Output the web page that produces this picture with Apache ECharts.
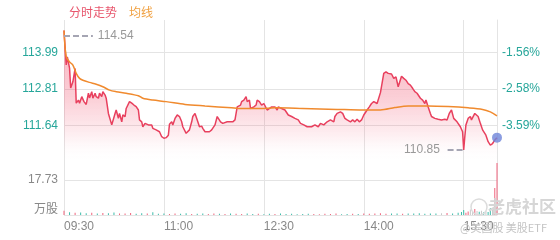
<!DOCTYPE html>
<html>
<head>
<meta charset="utf-8">
<script src="https://cdn.jsdelivr.net/npm/echarts@6/dist/echarts.min.js"></script>
<style>html,body{margin:0;padding:0;background:#fff}#c{width:560px;height:240px}</style>
</head>
<body>
<div id="c"></div>
<script>
// ---- data ----
const prevClose = 115.80;
const priceTicks = [111.64, 112.815, 113.99];
const priceTickLabels = ['111.64', '112.81', '113.99'];
const volTicks = [0, 17.73];
const volTickLabels = ['万股', '17.73'];
const timeTicks = [0, 90, 180, 270, 360];
const timeTickLabels = ['09:30', '11:00', '12:30', '14:00', '15:30'];
const highPrice = 114.54;
const lowPrice = 110.85;

// [minutes since 09:30, price]
const pricePoints = [
[0,114.70],[2,113.59],[3,113.85],[5,113.49],[6,112.85],[8,113.05],[10,113.48],[11,112.36],[13,112.46],[14,112.36],
[16,112.57],[18,112.41],[20,112.32],[22,112.68],[23,112.53],[25,112.73],[26,112.52],[28,112.68],[29,112.57],[31,112.52],
[32,112.68],[34,112.57],[35,112.73],[37,112.62],[38,112.52],[40,112.03],[41,111.98],[43,111.66],[44,111.60],[46,112.03],
[47,112.14],[49,111.87],[50,112.03],[52,111.76],[53,111.98],[55,111.93],[56,112.19],[59,112.41],[61,112.36],[63,112.30],
[65,112.25],[67,112.14],[68,111.82],[70,111.76],[71,111.60],[73,111.71],[74,111.76],[76,111.66],[77,111.60],[79,111.66],
[80,111.55],[83,111.50],[86,111.44],[88,111.28],[90,111.23],[92,111.25],[94,111.33],[95,111.68],[97,111.76],[98,111.66],
[100,111.87],[102,111.98],[104,111.93],[106,111.76],[107,111.60],[110,111.39],[111,111.44],[113,111.50],[115,111.76],[116,111.93],
[118,112.03],[120,111.82],[121,111.76],[122,111.60],[124,111.62],[125,111.55],[127,111.44],[128,111.50],[131,111.44],[133,111.50],
[134,111.55],[136,111.66],[138,111.93],[139,111.87],[141,111.76],[142,111.82],[143,111.71],[147,111.76],[150,111.76],[152,111.76],
[154,111.82],[156,112.24],[157,112.24],[159,112.30],[160,112.41],[162,112.46],[164,112.57],[165,112.41],[167,112.46],[168,112.19],
[171,112.24],[173,112.30],[174,112.46],[176,112.41],[178,112.30],[180,112.35],[183,112.14],[184,112.19],[187,112.24],[190,112.24],
[192,112.14],[193,112.24],[196,112.19],[199,112.14],[202,111.98],[205,111.93],[208,111.87],[211,111.82],[213,111.71],[216,111.66],
[219,111.60],[220,111.55],[223,111.60],[226,111.66],[229,111.60],[231,111.71],[234,111.66],[235,111.71],[237,111.76],[238,111.71],
[240,111.82],[241,111.87],[243,111.76],[244,111.93],[246,112.03],[249,112.08],[251,112.03],[253,111.87],[255,111.82],[258,111.76],
[260,111.82],[262,111.76],[264,111.84],[266,111.76],[268,111.82],[270,111.98],[273,112.14],[275,112.24],[277,112.35],[279,112.41],
[282,112.35],[283,112.30],[285,112.70],[286,112.90],[288,113.32],[290,113.37],[292,113.32],[295,113.30],[297,113.16],[299,113.21],
[301,112.89],[302,112.94],[304,113.23],[306,113.16],[308,113.10],[310,112.99],[312,112.94],[314,112.84],[316,112.73],[318,112.68],
[319,112.73],[321,112.52],[323,112.46],[325,112.35],[326,112.46],[328,112.24],[330,112.03],[331,111.93],[334,111.87],[337,111.84],
[340,111.82],[343,111.84],[345,111.82],[347,112.03],[349,112.14],[351,111.87],[352,111.82],[354,111.76],[357,111.60],[359,111.44],
[360,110.85],[361,111.28],[362,111.66],[364,111.87],[366,111.93],[367,111.82],[370,112.03],[371,112.08],[373,111.93],[375,111.71],
[377,111.50],[380,111.33],[382,111.12],[384,111.01],[386,111.06],[388,111.17],[389,111.22],[390,111.25]
];

// [minutes, average price]
const avgPoints = [
[0,114.70],[2,113.85],[5,113.69],[8,113.59],[11,113.32],[14,113.16],[17,113.10],[23,113.03],[29,112.97],[35,112.89],
[41,112.78],[47,112.73],[56,112.68],[67,112.60],[71,112.52],[80,112.46],[92,112.41],[109,112.32],[127,112.27],[151,112.21],
[157,112.19],[177,112.19],[190,112.21],[215,112.19],[246,112.16],[269,112.14],[285,112.14],[298,112.22],[310,112.27],[328,112.27],
[346,112.25],[364,112.21],[377,112.16],[384,112.08],[390,111.95]
];

// [minutes, volume (万股), direction 1 up / -1 down / 0 flat]
const volPoints = [
[0,2.2,1],[5,1.4,-1],[10,1.1,1],[15,1.3,-1],[20,0.9,-1],[25,1.2,1],[30,0.8,-1],[35,1.0,1],[40,0.9,-1],[45,1.3,-1],
[50,0.7,1],[55,0.8,1],[60,1.0,1],[65,0.6,-1],[70,0.9,-1],[75,0.7,1],[80,1.4,-1],[85,0.6,-1],[90,0.8,-1],[95,0.5,1],
[100,0.7,1],[105,0.6,-1],[110,0.9,-1],[115,0.5,1],[120,0.6,-1],[125,0.8,-1],[130,0.5,1],[135,0.7,1],[140,0.6,-1],[145,0.5,1],
[150,0.8,-1],[155,0.6,1],[160,0.5,1],[165,0.7,-1],[170,0.5,-1],[175,0.6,1],[180,0.4,-1],[185,0.6,-1],[190,0.5,1],[195,0.7,-1],
[200,0.5,-1],[205,0.6,-1],[210,0.4,-1],[215,0.5,-1],[220,0.6,-1],[225,0.5,1],[230,0.4,1],[235,0.6,1],[240,0.5,1],[245,0.7,1],
[250,0.4,-1],[255,0.5,-1],[260,0.6,1],[265,0.5,-1],[270,0.8,1],[275,0.6,1],[280,0.7,1],[285,0.9,1],[290,0.6,1],[295,0.8,-1],
[300,0.7,-1],[305,0.6,1],[310,0.8,-1],[315,0.7,-1],[320,0.9,-1],[325,0.6,-1],[330,0.8,-1],[335,0.7,-1],[340,0.9,0],[345,1.0,1],
[350,0.8,-1],[355,1.1,-1],[358,1.5,-1],[360,2.5,-1],[362,1.2,1],[364,1.8,1],[366,2.8,0],[368,1.5,0],[370,3.0,1],[372,2.0,0],
[374,1.6,-1],[376,2.2,0],[378,1.4,-1],[380,2.0,0],[382,1.5,-1],[384,3.5,-1],[386,2.5,0],[387,4.0,0],[388,13.7,1],[389,4.5,0],
[390,26.3,1]
];

// ---- chart ----
const FONT = '"Liberation Sans", Arial, "Noto Sans CJK SC", sans-serif';
const GRID_COLOR = '#e4e4e4';
const UP = '#f0627c', DOWN = '#3bbcaa', FLAT = '#c8c8c8';
const TEAL = '#26a69a';

function labelFor(ticks, labels, v) {
  for (let i = 0; i < ticks.length; i++) if (Math.abs(ticks[i] - v) < 1e-6) return labels[i];
  return '';
}

const chart = echarts.init(document.getElementById('c'), null, {renderer: 'canvas'});
const last = pricePoints[pricePoints.length - 1];

chart.setOption({
  animation: false,
  textStyle: {fontFamily: FONT},
  legend: {
    left: 59, top: 3, itemWidth: 0, itemHeight: 0, itemGap: 7, selectedMode: false,
    data: [
      {name: '分时走势', icon: 'rect', textStyle: {color: '#e8566d'}},
      {name: '均线', icon: 'rect', textStyle: {color: '#f0a040'}}
    ],
    textStyle: {fontSize: 12, fontFamily: FONT}
  },
  grid: [
    {left: 64, right: 63, top: 20, height: 142},
    {left: 64, right: 63, top: 162, height: 53}
  ],
  xAxis: [
    {type: 'value', gridIndex: 0, min: 0, max: 390, interval: 90,
     axisLine: {show: false}, axisTick: {show: false}, axisLabel: {show: false},
     splitLine: {show: true, lineStyle: {color: GRID_COLOR}}},
    {type: 'value', gridIndex: 1, min: 0, max: 390, interval: 90,
     axisLine: {show: false}, axisTick: {show: false},
     axisLabel: {show: true, align: 'left', color: '#888', fontSize: 12, margin: 6,
       formatter: v => labelFor(timeTicks, timeTickLabels, v)},
     splitLine: {show: true, lineStyle: {color: GRID_COLOR}}}
  ],
  yAxis: [
    {type: 'value', gridIndex: 0, min: 110.465, max: 115.04, position: 'left',
     axisLine: {show: false}, axisTick: {show: false, customValues: priceTicks},
     axisLabel: {customValues: priceTicks, color: TEAL, fontSize: 12, margin: 6,
       formatter: v => labelFor(priceTicks, priceTickLabels, v)},
     splitLine: {show: true, lineStyle: {color: GRID_COLOR}}},
    {type: 'value', gridIndex: 0, min: 110.465, max: 115.04, position: 'right',
     axisLine: {show: true, lineStyle: {color: GRID_COLOR}}, axisTick: {show: false, customValues: priceTicks},
     axisLabel: {customValues: priceTicks, color: TEAL, fontSize: 12, margin: 5,
       formatter: v => ((v - prevClose) / prevClose * 100).toFixed(2) + '%'},
     splitLine: {show: false}},
    {type: 'value', gridIndex: 1, min: 0, max: 26.85, position: 'left',
     axisLine: {show: false}, axisTick: {show: false, customValues: volTicks},
     axisLabel: {customValues: volTicks, color: '#888', fontSize: 12, margin: 6,
       formatter: v => { const t = labelFor(volTicks, volTickLabels, v); return v === 0 ? '{u|' + t + '}' : t; },
       rich: {u: {fontSize: 12, color: '#888', padding: [0, 0, 10, 0], fontFamily: FONT}}},
     splitLine: {show: true, lineStyle: {color: GRID_COLOR}}},
    {type: 'value', gridIndex: 1, min: 0, max: 26.85, position: 'right',
     axisLine: {show: true, lineStyle: {color: GRID_COLOR}}, axisTick: {show: false},
     axisLabel: {show: false}, splitLine: {show: false}}
  ],
  series: [
    {
      name: '分时走势', type: 'line', xAxisIndex: 0, yAxisIndex: 0,
      data: pricePoints, showSymbol: false, symbol: 'none',
      lineStyle: {color: '#e8405e', width: 1.5},
      itemStyle: {color: '#e8405e'},
      areaStyle: {
        color: new echarts.graphic.LinearGradient(0, 0, 0, 1, [
          {offset: 0, color: 'rgba(240,70,100,0.6)'},
          {offset: 0.5, color: 'rgba(240,70,100,0.38)'},
          {offset: 0.8, color: 'rgba(240,70,100,0.12)'},
          {offset: 1, color: 'rgba(255,255,255,0)'}
        ])
      },
      markLine: {
        silent: true, symbol: ['none', 'none'],
        lineStyle: {color: '#a5a5b3', type: [6, 3], width: 2},
        label: {show: true, position: 'end', color: '#999', fontSize: 12, distance: 5, fontFamily: FONT},
        data: [
          [{coord: [0, highPrice], label: {formatter: highPrice.toFixed(2)}}, {coord: [26, highPrice]}],
          [{coord: [359, lowPrice], label: {formatter: lowPrice.toFixed(2)}}, {coord: [343, lowPrice]}]
        ]
      },
      z: 3
    },
    {
      name: '均线', type: 'line', xAxisIndex: 0, yAxisIndex: 0,
      data: avgPoints, showSymbol: false, symbol: 'none', smooth: 0.3,
      lineStyle: {color: '#f08a2e', width: 1.5}, itemStyle: {color: '#f0a040'}, z: 4
    },
    {
      name: 'last', type: 'scatter', xAxisIndex: 0, yAxisIndex: 0,
      data: [last], symbolSize: 10,
      itemStyle: {color: '#6e84d9'}, z: 5
    },
    {
      name: 'vol', type: 'bar', xAxisIndex: 1, yAxisIndex: 2, barWidth: 1,
      data: volPoints.map(p => ({value: [p[0], p[1]], itemStyle: {color: p[2] > 0 ? UP : (p[2] < 0 ? DOWN : FLAT)}}))
    }
  ],
  graphic: [
    {type: 'circle', shape: {cx: 479, cy: 207, r: 8}, style: {fill: 'none', stroke: '#dcdcdc', lineWidth: 1.5}, z: 100},
    {type: 'text', left: 488, top: 198, style: {text: '老虎社区', fill: '#d6d6d6', font: 'bold 17px "Noto Sans CJK SC"'}, z: 100},
    {type: 'text', left: 460, top: 222, style: {text: '@美国股 美股ETF', fill: '#c4c4c4', font: '11px "Noto Sans CJK SC"'}, z: 100}
  ]
});
</script>
</body>
</html>
